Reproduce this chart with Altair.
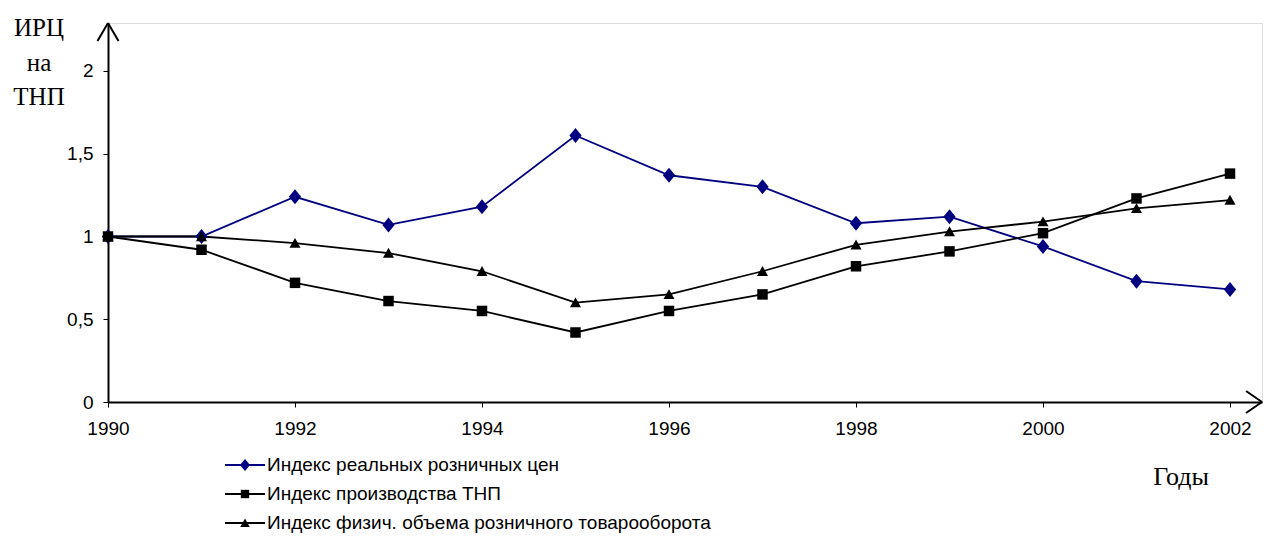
import altair as alt
import pandas as pd

years = list(range(1990, 2003))
series_names = [
    "Индекс реальных розничных цен",
    "Индекс производства ТНП",
    "Индекс физич. объема розничного товарооборота",
]
irc = [1.0, 1.0, 1.24, 1.07, 1.18, 1.61, 1.37, 1.30, 1.08, 1.12, 0.94, 0.73, 0.68]
tnp = [1.0, 0.92, 0.72, 0.61, 0.55, 0.42, 0.55, 0.65, 0.82, 0.91, 1.02, 1.23, 1.38]
fiz = [1.0, 1.0, 0.96, 0.90, 0.79, 0.60, 0.65, 0.79, 0.95, 1.03, 1.09, 1.17, 1.22]
x_ticks = [1990, 1992, 1994, 1996, 1998, 2000, 2002]
y_ticks = [0, 0.5, 1, 1.5, 2]
y_title_lines = ["ИРЦ", "на", "ТНП"]
x_title = "Годы"

colors = ["#000080", "#000000", "#000000"]
shapes = ["M0,-1L0.82,0L0,1L-0.82,0Z", "square", "M0,-0.95L1,0.85L-1,0.85Z"]
marker_sizes = [225, 110, 121]
legend_sizes = [150, 70, 90]

W, H = 1154, 379
PX_PER_YEAR = 93.5
Y_TOP = 2.29
FS = 19

rows = []
for name, vals in zip(series_names, [irc, tnp, fiz]):
    for yr, v in zip(years, vals):
        rows.append({"year": yr, "value": v, "series": name})
df = pd.DataFrame(rows)

x_enc = alt.X(
    "year:Q",
    scale=alt.Scale(domain=[1990, 1990 + W / PX_PER_YEAR], nice=False, zero=False),
    axis=alt.Axis(
        values=x_ticks, format="d", title=None, labelFlush=False, labelOverlap=False,
        tickSize=5, labelPadding=12, labelFontSize=FS, labelFont="Liberation Sans",
        labelColor="black", domainColor="black", domainWidth=2, tickColor="black",
        grid=False,
    ),
)
y_enc = alt.Y(
    "value:Q",
    scale=alt.Scale(domain=[0, Y_TOP], nice=False, zero=True),
    axis=alt.Axis(
        values=y_ticks, title=None, labelFlush=False, labelOverlap=False,
        labelExpr="replace(toString(datum.value), '.', ',')",
        tickSize=5, labelPadding=10, labelFontSize=FS, labelFont="Liberation Sans",
        labelColor="black", domainColor="black", domainWidth=2, tickColor="black",
        grid=False,
    ),
)
color_enc = alt.Color("series:N", scale=alt.Scale(domain=series_names, range=colors), legend=None)

base = alt.Chart(df)
lines = base.mark_line(strokeWidth=1.8).encode(x=x_enc, y=y_enc, color=color_enc, detail="series:N")

layers = [lines]
for name, col, shp, sz in zip(series_names, colors, shapes, marker_sizes):
    layers.append(
        base.transform_filter(alt.datum.series == name)
        .mark_point(filled=True, opacity=1, shape=shp, size=sz, color=col)
        .encode(x=alt.X("year:Q"), y=alt.Y("value:Q"))
    )

# legend
legend_df = pd.DataFrame({"series": series_names, "row": list(range(len(series_names)))})
leg = alt.Chart(legend_df).transform_calculate(ly="442 + datum.row * 29")
layers.append(
    leg.mark_rule(strokeWidth=1.8).encode(
        x=alt.value(117), x2=alt.value(157), y=alt.Y("ly:Q", scale=None, axis=None),
        color=alt.Color("series:N", scale=alt.Scale(domain=series_names, range=colors), legend=None),
    )
)
for i, (name, col, shp, sz) in enumerate(zip(series_names, colors, shapes, legend_sizes)):
    layers.append(
        leg.transform_filter(alt.datum.series == name)
        .mark_point(filled=True, opacity=1, shape=shp, size=sz, color=col)
        .encode(x=alt.value(137), y=alt.Y("ly:Q", scale=None, axis=None))
    )
layers.append(
    leg.mark_text(align="left", baseline="middle", font="Liberation Sans", fontSize=FS, color="black").encode(
        x=alt.value(159), y=alt.Y("ly:Q", scale=None, axis=None), text="series:N"
    )
)

# y title (stacked lines)
yt_df = pd.DataFrame({"t": y_title_lines, "row": list(range(len(y_title_lines)))})
layers.append(
    alt.Chart(yt_df).transform_calculate(ly="5 + datum.row * 34.5")
    .mark_text(align="center", baseline="middle", font="Liberation Serif", fontSize=25, color="black")
    .encode(x=alt.value(-69), y=alt.Y("ly:Q", scale=None, axis=None), text="t:N")
)
# x title
layers.append(
    alt.Chart(legend_df).transform_filter("datum.row == 0")
    .mark_text(align="center", baseline="middle", font="Liberation Serif", fontSize=26, color="black")
    .encode(x=alt.value(1073), y=alt.value(454), text=alt.value(x_title))
)

# arrow heads
arrow_df = pd.DataFrame({"k": [0]})
def seg(x1, y1, x2, y2):
    return alt.Chart(arrow_df).mark_rule(strokeWidth=2, color="black").encode(
        x=alt.value(x1), y=alt.value(y1), x2=alt.value(x2), y2=alt.value(y2)
    )
layers += [
    seg(0, 0, -10.5, 18), seg(0, 0, 10.5, 18),
    seg(W, H, W - 16, H - 11), seg(W, H, W - 16, H + 11),
]

chart = alt.layer(*layers).properties(
    width=W, height=H,
    padding={"left": 100, "top": 15, "right": 1, "bottom": 134},
    autosize=alt.AutoSizeParams(type="none"),
).configure_view(stroke=None).configure(background="white")

chart.save("out.html", embed_options={"renderer": "svg", "actions": False})
